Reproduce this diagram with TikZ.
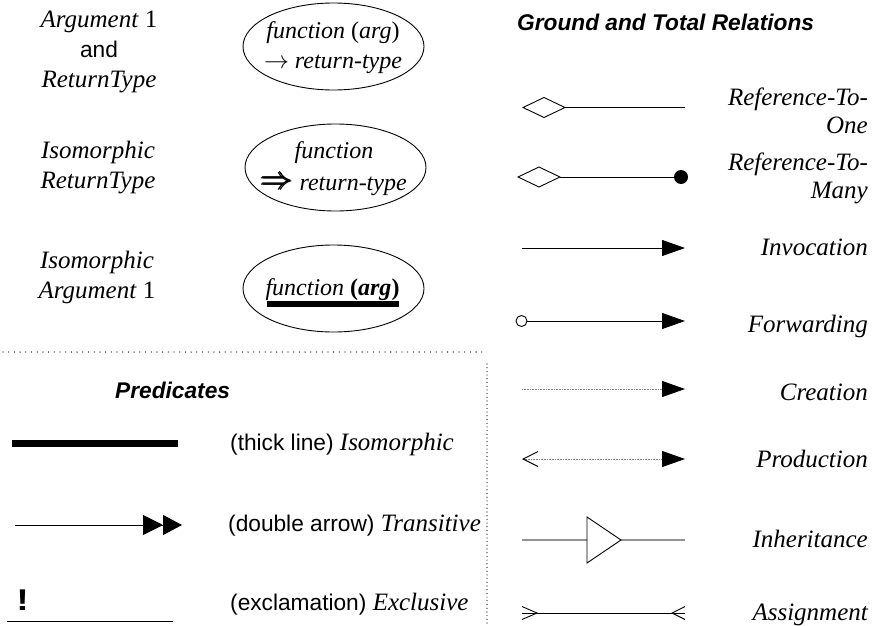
\documentclass[tikz,border=0pt]{standalone}
\usepackage{fontspec}
\setmainfont{Liberation Serif}
\setsansfont{Liberation Sans}
\usepackage{amsmath}
\usepackage{graphicx}
\usetikzlibrary{arrows.meta,shapes.geometric}

\newcommand{\serifit}[1]{{\rmfamily\itshape\fontsize{25}{28}\selectfont #1}}
\newcommand{\bigimplies}{\raisebox{1pt}{\scalebox{1.3}{$\pmb{\Rightarrow}$}}}

\tikzset{
  thin line/.style={line width=0.9pt},
  oval/.style={ellipse, draw, thin line, minimum width=181pt, minimum height=87pt, inner sep=0pt},
  ovaltext/.style={inner sep=0pt, align=center, anchor=base, font=\fontsize{24}{30}\selectfont\itshape},
  leftlbl/.style={inner sep=0pt, align=center, anchor=base, font=\fontsize{25}{30}\selectfont\itshape},
  rightlbl/.style={inner sep=0pt, align=right, anchor=base east, font=\fontsize{25}{28}\selectfont\itshape},
  predlbl/.style={inner sep=0pt, anchor=base west, font=\fontsize{22.7}{26}\selectfont\sffamily},
  heading/.style={inner sep=0pt, anchor=base west, font=\fontsize{22.7}{26}\selectfont\sffamily\bfseries\itshape},
  bigtip/.style={-{Triangle[length=23pt,width=16pt,color=black]}},
  finedots/.style={thin line, gray, dash pattern=on 0.8pt off 0.8pt},
  grayline/.style={line width=1.1pt, gray!85},
  sepdots/.style={line width=1.3pt, line cap=round, dash pattern=on 0pt off 5.7pt},
  sepdotsv/.style={line width=1.2pt, line cap=round, dash pattern=on 0pt off 3.7pt},
}

\begin{document}
\begin{tikzpicture}[x=1pt,y=-1pt]
\useasboundingbox (0,0) rectangle (875,626);

% ---------- function notation (top left) ----------
% (multi-line nodes are placed by the baseline of their last line)
\node[leftlbl] (argret) at (99,88)
  {Argument \textup{1}\\{\sffamily\upshape\fontsize{22.7}{30}\selectfont and}\\ReturnType};
\node[oval] (ov1) at (333.5,46.5) {};
\node[ovaltext] (ov1t) at (333,69)
  {function \textup{(}arg\textup{)}\\$\rightarrow$ return-type};

\node[leftlbl] (isoret) at (98,188) {Isomorphic\\ReturnType};
\node[oval] (ov2) at (335.5,167.5) {};
\node[ovaltext, font=\fontsize{24}{32}\selectfont\itshape] (ov2t) at (334,190)
  {function\\\bigimplies{} return-type};

\node[leftlbl] (isoarg) at (97,298) {Isomorphic\\Argument \textup{1}};
\node[oval] (ov3) at (333.5,288.5) {};
\node[ovaltext] (ov3t) at (332.5,295)
  {function \textbf{\upshape(\textit{arg})}};
\coordinate (bar0) at (267,304);
\coordinate (bar1) at (399,304);
\draw[line width=6pt] (bar0) -- (bar1);

% ---------- section separators ----------
\coordinate (hs0) at (3,352);
\coordinate (hs1) at (483,352);
\draw[sepdots] (hs0) -- (hs1);
\coordinate (vs0) at (487,364);
\coordinate (vs1) at (487,626);
\draw[sepdotsv] (vs0) -- (vs1);

% ---------- predicates ----------
\node[heading] (predh) at (115,398) {Predicates};

\coordinate (k0) at (12,443.5);
\coordinate (k1) at (178,443.5);
\draw[line width=7pt] (k0) -- (k1);
\node[predlbl] (kl) at (230,450) {(thick line) \serifit{Isomorphic}};

\coordinate (d0) at (15,525);
\coordinate (d1) at (182,525);
\draw[thin line, -{Triangle[length=20pt,width=20pt,sep=0pt]Triangle[length=19pt,width=20pt,sep=0pt]}] (d0) -- (d1);
\node[predlbl] (dl) at (228,531) {(double arrow) \serifit{Transitive}};

\node[inner sep=0pt, anchor=base, font=\fontsize{30}{30}\selectfont\sffamily\bfseries] (excl) at (22.5,610) {\scalebox{1.25}[1]{!}};
\coordinate (x0) at (7,621);
\coordinate (x1) at (173,621);
\draw[thin line] (x0) -- (x1);
\node[predlbl] (xl) at (230,610) {(exclamation) \serifit{Exclusive}};

% ---------- ground and total relations ----------
\node[heading] (grh) at (517,31) {Ground and Total Relations};

% reference to one
\coordinate (ro0) at (522,107.5);
\coordinate (ro1) at (685,107.5);
\draw[thin line, {Diamond[open,length=44pt,width=21pt]}-] (ro0) -- (ro1);
\node[rightlbl] (rol) at (868,133) {Reference-To-\\One};

% reference to many
\coordinate (rm0) at (517,177);
\node[circle, fill, inner sep=0pt, minimum size=14pt] (rm1) at (681,177) {};
\draw[thin line, {Diamond[open,length=44pt,width=21pt]}-] (rm0) -- (rm1);
\node[rightlbl] (rml) at (868,198) {Reference-To-\\Many};

% invocation
\coordinate (iv0) at (522,248);
\coordinate (iv1) at (685,248);
\draw[thin line, bigtip] (iv0) -- (iv1);
\node[rightlbl] (ivl) at (868,255) {Invocation};

% forwarding
\node[circle, draw, thin line, inner sep=0pt, minimum size=11pt] (fw0) at (521.5,321) {};
\coordinate (fw1) at (685,321);
\draw[thin line, bigtip] (fw0) -- (fw1);
\node[rightlbl] (fwl) at (868,332) {Forwarding};

% creation
\coordinate (cr0) at (522,389);
\coordinate (cr1) at (685,389);
\draw[finedots, bigtip] (cr0) -- (cr1);
\node[rightlbl] (crl) at (868,400) {Creation};

% production
\coordinate (pr0) at (523,459);
\coordinate (pr1) at (685,459);
\draw[finedots, bigtip] (pr0) -- (pr1);
\draw[thin line] (pr0) ++(15,-7.5) -- (pr0) -- ++(15,7.5);
\node[rightlbl] (prl) at (868,467) {Production};

% inheritance
\coordinate (ih0) at (522,540);
\coordinate (tb) at (587,540);
\coordinate (ta) at (621,540);
\coordinate (ih1) at (685,540);
\draw[grayline] (ih0) -- (tb);
\draw[grayline] (ta) -- (ih1);
\draw[thin line] (tb) ++(0,-23) -- (ta) -- ++(-34,23) -- cycle;
\node[rightlbl] (ihl) at (868,547) {Inheritance};

% assignment
\coordinate (as0) at (522,613);
\coordinate (as1) at (685,613);
\draw[thin line] (as0) -- (as1);
\draw[thin line] (as0) ++(0,-6.5) -- ++(15,6.5) -- ++(-15,6.5);
\draw[thin line] (as1) ++(0,-6.5) -- ++(-13,6.5) -- ++(13,6.5);
\node[rightlbl] (asl) at (868,620) {Assignment};
\end{tikzpicture}
\end{document}
